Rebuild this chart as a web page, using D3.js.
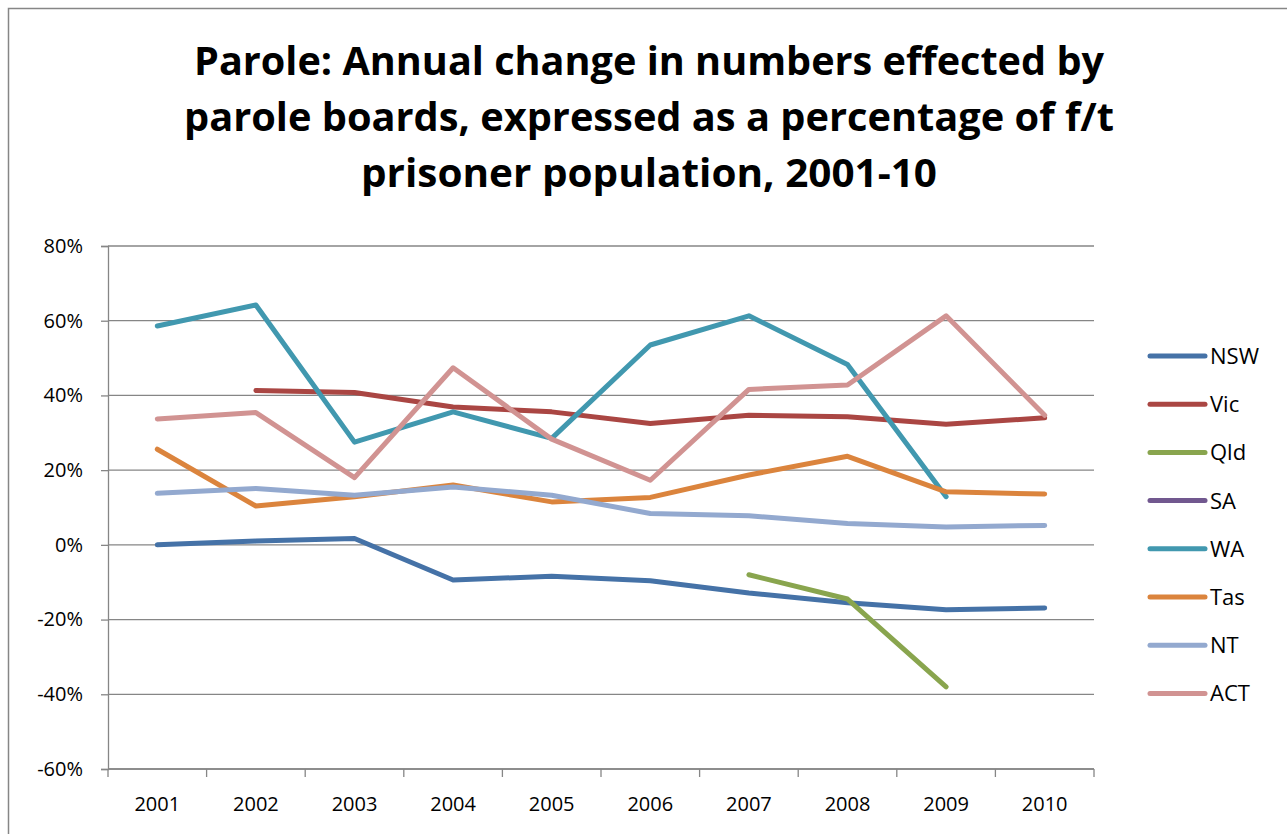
<!DOCTYPE html>
<html>
<head>
<meta charset="utf-8">
<script src="https://cdn.jsdelivr.net/npm/d3@7"></script>
<style>
  body { margin: 0; background: #fff; }
  text { font-family: "Open Sans", "Noto Sans", sans-serif; }
</style>
</head>
<body>
<svg id="chart" width="1287" height="834"></svg>
<script>
// years on the x axis
var years = ["2001", "2002", "2003", "2004", "2005", "2006", "2007", "2008", "2009", "2010"];
var yTicks = [-0.6, -0.4, -0.2, 0, 0.2, 0.4, 0.6, 0.8];

// series values (null = no value)
var nsw = [0.000, 0.010, 0.017, -0.094, -0.084, -0.096, -0.129, -0.155, -0.174, -0.169];
var vic = [null, 0.413, 0.408, 0.369, 0.356, 0.325, 0.347, 0.343, 0.323, 0.340];
var qld = [null, null, null, null, null, null, -0.080, -0.145, -0.380, null];
var sa  = [null, null, null, null, null, null, null, null, null, null];
var wa  = [0.586, 0.642, 0.275, 0.356, 0.285, 0.535, 0.613, 0.483, 0.129, null];
var tas = [0.256, 0.104, 0.129, 0.160, 0.115, 0.127, 0.187, 0.237, 0.142, 0.136];
var nt  = [0.138, 0.151, 0.133, 0.155, 0.133, 0.084, 0.078, 0.057, 0.048, 0.052];
var act = [0.337, 0.354, 0.180, 0.474, 0.283, 0.173, 0.416, 0.428, 0.613, 0.347];

var seriesNames = ["NSW", "Vic", "Qld", "SA", "WA", "Tas", "NT", "ACT"];
var seriesValues = [nsw, vic, qld, sa, wa, tas, nt, act];
var colors = ["#4572A7", "#AA4643", "#89A54E", "#71588F", "#4198AF", "#DB843D", "#93A9CF", "#D19392"];

var titleLines = [
    "Parole: Annual change in numbers effected by",
    "parole boards, expressed as a percentage of f/t",
    "prisoner population, 2001-10"
];
var titleWidths = [910, 930, 576];

var svg = d3.select("#chart");
var margin = {left: 108, top: 246, right: 1287 - 1094, bottom: 834 - 769};
var width = 1287 - margin.left - margin.right,
    height = 834 - margin.top - margin.bottom;

// outer chart border (only left and top are inside the window)
svg.append("rect")
    .attr("x", 8.5).attr("y", 8.5)
    .attr("width", 1400).attr("height", 1000)
    .attr("fill", "none")
    .attr("stroke", "#868686")
    .attr("stroke-width", 1.5);

// title
svg.selectAll(".title")
    .data(titleLines)
    .enter()
    .append("text")
    .attr("class", "title")
    .attr("x", 649)
    .attr("y", function (d, i) { return 75 + i * 56; })
    .attr("text-anchor", "middle")
    .attr("font-size", "40px")
    .attr("font-weight", "bold")
    .attr("textLength", function (d, i) { return titleWidths[i]; })
    .attr("lengthAdjust", "spacingAndGlyphs")
    .text(function (d) { return d; });

var g = svg.append("g")
    .attr("transform", "translate(" + margin.left + "," + margin.top + ")");

var x = d3.scaleBand()
    .domain(years)
    .range([0, width]);

var y = d3.scaleLinear()
    .domain([-0.6, 0.8])
    .range([height, 0]);

// gridlines
g.selectAll(".grid")
    .data(yTicks)
    .enter()
    .append("line")
    .attr("class", "grid")
    .attr("x1", 0).attr("x2", width)
    .attr("y1", function (d) { return y(d); })
    .attr("y2", function (d) { return y(d); })
    .attr("stroke", "#868686")
    .attr("stroke-width", 1.3);

// Y Axis, plain hyphen for negatives like the original
var yAxisCall = d3.axisLeft(y)
    .tickValues(yTicks)
    .tickFormat(function (d) { return Math.round(d * 100) + "%"; })
    .tickSize(7)
    .tickPadding(6);
var yAxis = g.append("g").attr("class", "y axis").call(yAxisCall);
yAxis.select(".domain").attr("stroke", "#868686").attr("stroke-width", 1.3);
yAxis.selectAll(".tick line").attr("stroke", "#868686").attr("stroke-width", 1.3);
yAxis.selectAll(".tick text")
    .attr("font-size", "20px")
    .attr("font-family", "Open Sans, sans-serif")
    .attr("fill", "#000")
    .attr("x", -25);

// X Axis, ticks between the categories
var xAxis = g.append("g")
    .attr("class", "x axis")
    .attr("transform", "translate(0," + height + ")");
xAxis.append("line")
    .attr("x1", 0).attr("x2", width)
    .attr("stroke", "#868686").attr("stroke-width", 1.3);
var bounds = years.map(function (d) { return x(d); }).concat([width]);
xAxis.selectAll(".xtick")
    .data(bounds)
    .enter()
    .append("line")
    .attr("class", "xtick")
    .attr("x1", function (d) { return d; })
    .attr("x2", function (d) { return d; })
    .attr("y1", 0).attr("y2", 8)
    .attr("stroke", "#868686").attr("stroke-width", 1.3);
xAxis.selectAll(".xlabel")
    .data(years)
    .enter()
    .append("text")
    .attr("class", "xlabel")
    .attr("x", function (d) { return x(d) + x.bandwidth() / 2; })
    .attr("y", 42)
    .attr("text-anchor", "middle")
    .attr("font-size", "20px")
    .text(function (d) { return d; });

// series lines
var line = d3.line()
    .defined(function (d) { return d !== null; })
    .x(function (d, i) { return x(years[i]) + x.bandwidth() / 2; })
    .y(function (d) { return y(d); });

g.selectAll(".series")
    .data(seriesValues)
    .enter()
    .append("path")
    .attr("class", "series")
    .attr("d", function (s) { return line(s); })
    .attr("fill", "none")
    .attr("stroke", function (s, i) { return colors[i]; })
    .attr("stroke-width", 5)
    .attr("stroke-linecap", "round")
    .attr("stroke-linejoin", "round");

// legend
var legend = svg.append("g").attr("transform", "translate(1150,356)");
var items = legend.selectAll(".item")
    .data(seriesNames)
    .enter()
    .append("g")
    .attr("class", "item")
    .attr("transform", function (d, i) { return "translate(0," + (i * 48.2) + ")"; });
items.append("line")
    .attr("x1", 0).attr("x2", 55)
    .attr("stroke", function (d, i) { return colors[i]; })
    .attr("stroke-width", 5)
    .attr("stroke-linecap", "round");
items.append("text")
    .attr("x", 60)
    .attr("y", 8)
    .attr("font-size", "22px")
    .text(function (d) { return d; });
</script>
</body>
</html>
